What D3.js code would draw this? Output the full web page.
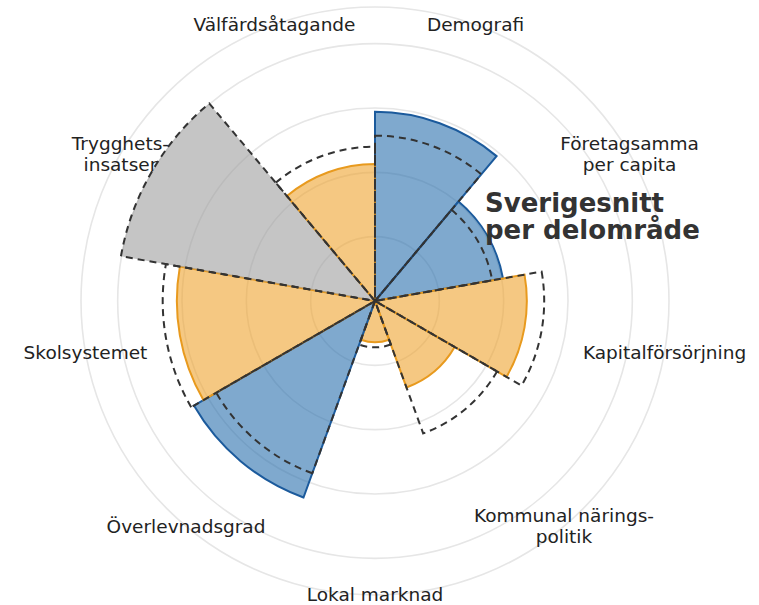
<!DOCTYPE html>
<html>
<head>
<meta charset="utf-8">
<script src="https://cdn.jsdelivr.net/npm/d3@7"></script>
<style>
  html, body { margin: 0; padding: 0; background: #fff; }
  svg { display: block; }
</style>
</head>
<body>
<svg id="chart" width="759" height="605"></svg>
<script>
// Categories clockwise from top
const categories = [
  "Demografi",
  "Företagsamma\nper capita",
  "Kapitalförsörjning",
  "Kommunal närings-\npolitik",
  "Lokal marknad",
  "Överlevnadsgrad",
  "Skolsystemet",
  "Trygghets-\ninsatser",
  "Välfärdsåtagande"
];
// Area values (null = missing data, shown in gray at the average)
const values = [2.94, 2.02, 2.36, 1.43, 0.64, 3.25, 3.08, null, 2.13];
// Swedish average per sub-area (dashed outline)
const averages = [2.57, 1.85, 2.63, 2.19, 0.72, 2.85, 3.30, 4.01, 2.40];
const gridTicks = [1, 2, 3, 4];
const rMaxValue = 4.57;
const title = ["Sverigesnitt", "per delområde"];

const width = 759, height = 605;
const cx = 375, cy = 301;
const outerR = 294;

const svg = d3.select("#chart");
const g = svg.append("g").attr("transform", `translate(${cx},${cy})`);

const r = d3.scaleLinear().domain([0, rMaxValue]).range([0, outerR]);
const x = d3.scaleBand().domain(categories).range([0, 2 * Math.PI]).padding(0);

// grid circles
g.append("g").selectAll("circle")
  .data(gridTicks.concat([rMaxValue]))
  .join("circle")
  .attr("r", d => r(d))
  .attr("fill", "none")
  .attr("stroke", "#e6e6e6")
  .attr("stroke-width", 1.6);

const arc = d3.arc()
  .innerRadius(0)
  .startAngle(d => x(d.cat))
  .endAngle(d => x(d.cat) + x.bandwidth());

const rows = categories.map((c, i) => ({
  cat: c, v: values[i], avg: averages[i]
}));

// sectors
g.append("g").selectAll("path")
  .data(rows)
  .join("path")
  .attr("d", d => arc.outerRadius(r(d.v == null ? d.avg : d.v))(d))
  .attr("fill", d => d.v == null ? "#9e9e9e" : (d.v >= d.avg ? "#2a6fae" : "#eea42e"))
  .attr("fill-opacity", 0.6)
  .attr("stroke", d => d.v == null ? "none" : (d.v >= d.avg ? "#1b5a9c" : "#e89a1e"))
  .attr("stroke-width", 2)
  .attr("stroke-linejoin", "miter");

// average dashed outlines
g.append("g").selectAll("path")
  .data(rows)
  .join("path")
  .attr("d", d => arc.outerRadius(r(d.avg))(d))
  .attr("fill", "none")
  .attr("stroke", "#333")
  .attr("stroke-width", 2)
  .attr("stroke-dasharray", "7,5");

// category labels
const labelR = 294;
const labels = g.append("g")
  .attr("font-family", "DejaVu Sans, sans-serif")
  .attr("font-size", 18.5)
  .attr("fill", "#222");
rows.forEach(d => {
  const a = x(d.cat) + x.bandwidth() / 2;
  const lx = labelR * Math.sin(a), ly = -labelR * Math.cos(a);
  const lines = d.cat.split("\n");
  const lh = 21;
  const t = labels.append("text")
    .attr("text-anchor", "middle")
    .attr("x", lx)
    .attr("y", ly - (lines.length - 1) * lh / 2);
  lines.forEach((ln, k) => {
    t.append("tspan")
      .attr("x", lx)
      .attr("dy", k === 0 ? "0.35em" : lh)
      .text(ln);
  });
});

// title
const tt = svg.append("text")
  .attr("x", 485)
  .attr("y", 212)
  .attr("font-family", "DejaVu Sans, sans-serif")
  .attr("font-weight", "bold")
  .attr("font-size", 26)
  .attr("fill", "#333");
title.forEach((ln, k) => {
  tt.append("tspan").attr("x", 485).attr("dy", k === 0 ? 0 : 27).text(ln);
});
</script>
</body>
</html>
